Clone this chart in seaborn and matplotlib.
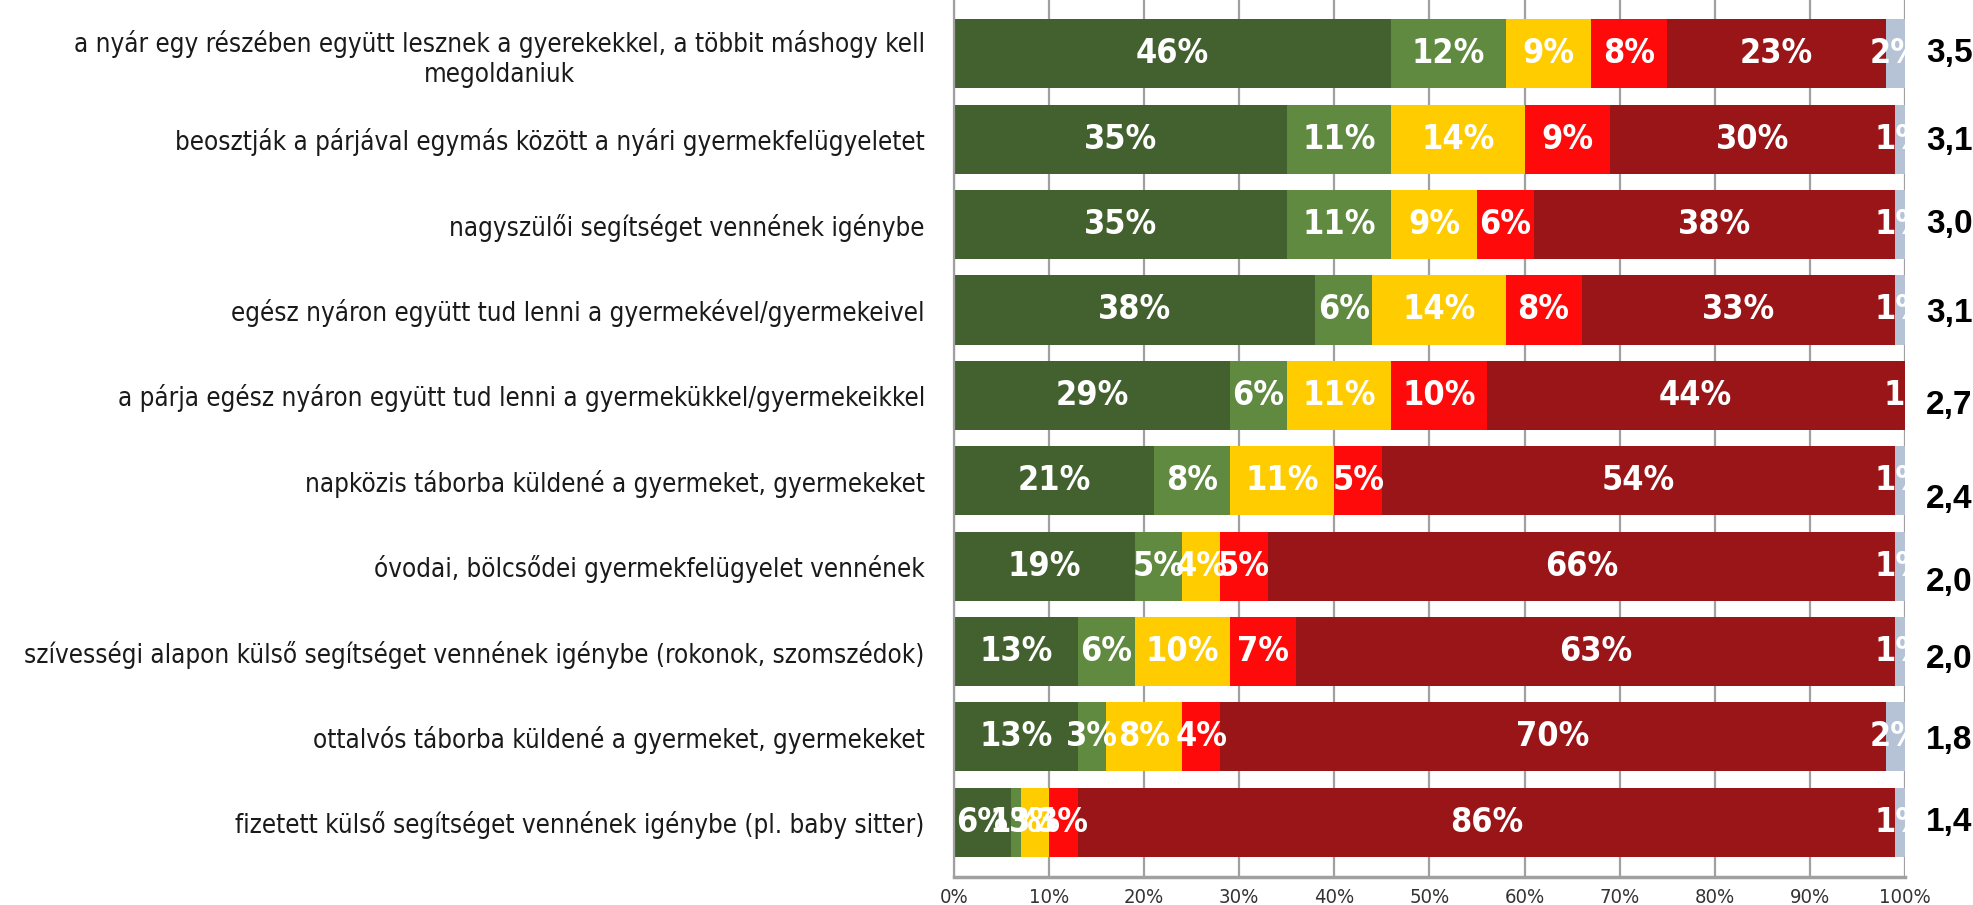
import pandas as pd
import seaborn as sns
import matplotlib.pyplot as plt
from matplotlib import font_manager
from matplotlib.font_manager import FontProperties
from matplotlib.ticker import FixedLocator
from matplotlib.transforms import offset_copy

categories = [
    "a nyár egy részében együtt lesznek a gyerekekkel, a többit máshogy kell\nmegoldaniuk",
    "beosztják a párjával egymás között a nyári gyermekfelügyeletet",
    "nagyszülői segítséget vennének igénybe",
    "egész nyáron együtt tud lenni a gyermekével/gyermekeivel",
    "a párja egész nyáron együtt tud lenni a gyermekükkel/gyermekeikkel",
    "napközis táborba küldené a gyermeket, gyermekeket",
    "óvodai, bölcsődei gyermekfelügyelet vennének",
    "szívességi alapon külső segítséget vennének igénybe (rokonok, szomszédok)",
    "ottalvós táborba küldené a gyermeket, gyermekeket",
    "fizetett külső segítséget vennének igénybe (pl. baby sitter)",
]

biztosan_igen = [46, 35, 35, 38, 29, 21, 19, 13, 13, 6]
inkabb_igen = [12, 11, 11, 6, 6, 8, 5, 6, 3, 1]
is_is = [9, 14, 9, 14, 11, 11, 4, 10, 8, 3]
inkabb_nem = [8, 9, 6, 8, 10, 5, 5, 7, 4, 3]
biztosan_nem = [23, 30, 38, 33, 44, 54, 66, 63, 70, 86]
nem_tudja = [2, 1, 1, 1, 1, 1, 1, 1, 2, 1]
atlag = ["3,5", "3,1", "3,0", "3,1", "2,7", "2,4", "2,0", "2,0", "1,8", "1,4"]

series = {
    "biztosan igen": biztosan_igen,
    "inkább igen": inkabb_igen,
    "is-is": is_is,
    "inkább nem": inkabb_nem,
    "biztosan nem": biztosan_nem,
    "nem tudja": nem_tudja,
}
colors = ["#42612E", "#5F8A40", "#FFCC00", "#FF0A0A", "#9A1518", "#B6C3D6"]
# the average labels sit a little lower than the bar centre on some rows (pixels)
atlag_shift = [0, 2, 0, 4, 10, 19, 16, 8, 4, 0]

df = pd.DataFrame(series)
df.insert(0, "kategoria", categories)
cum = df[list(series)].cumsum(axis=1)
cum.insert(0, "kategoria", categories)


def condensed_font(bold):
    # look for an installed narrow / condensed face, else None
    found = []
    for f in font_manager.fontManager.ttflist:
        fn = f.fname.lower()
        if "italic" in fn or "oblique" in fn:
            continue
        if not any(k in fn or k in f.name.lower() for k in ("narrow", "condensed")):
            continue
        if any(k in fn for k in ("semicondensed", "extracondensed", "semi", "extra", "ultra")):
            continue
        w = f.weight if isinstance(f.weight, int) else (700 if f.weight == "bold" else 400)
        if bold and w != 700:
            continue
        if not bold and w != 400:
            continue
        found.append(f)
    order = ["liberation", "arial", "dejavu", "noto", "roboto"]
    found.sort(key=lambda f: next((i for i, o in enumerate(order) if o in f.fname.lower()), 9))
    return found[0].fname if found else None


reg_file = condensed_font(False)
bold_file = condensed_font(True)


def fp(size, bold=False):
    fname = bold_file if bold else reg_file
    if fname:
        return FontProperties(fname=fname, size=size)
    # no condensed face: shrink the regular family instead
    return FontProperties(family="Liberation Sans", weight="bold" if bold else "normal",
                          size=size * 1.03)


sns.set_style("white")
plt.rcParams["font.family"] = ["Liberation Sans", "DejaVu Sans"]

fig = plt.figure(figsize=(19.74, 9.05), dpi=100)
ax = fig.add_axes([0.4833, 0.031, 0.4817, 0.969])

# stacked bars: draw cumulative totals from the last series back to the first
for name, color in reversed(list(zip(series, colors))):
    sns.barplot(data=cum, x=name, y="kategoria", color=color, orient="h",
                width=0.81, saturation=1, linewidth=0, ax=ax, zorder=2)

pct_font = fp(24.5, bold=True)
for i, cat in enumerate(categories):
    left = 0
    for name in series:
        v = df.loc[i, name]
        ax.text(left + v / 2, i, f"{v}%", ha="center", va="center", color="white",
                fontproperties=pct_font, clip_on=True, zorder=3)
        left += v
    tr = offset_copy(ax.get_yaxis_transform(), fig=fig, y=-atlag_shift[i], units="dots")
    ax.text(1.022, i, atlag[i], transform=tr, ha="left",
            va="center", fontsize=24, fontweight="bold", color="black", clip_on=False)

ax.set_xlim(0, 100)
ax.set_ylim(9.64, -0.63)
ax.set_xticks(range(0, 101, 10))
ax.set_xticklabels([f"{t}%" for t in range(0, 101, 10)], fontproperties=fp(14.5), color="#333333")
ax.set_yticks(range(len(categories)))
ax.set_yticklabels(categories, fontproperties=fp(18.6), color="#1a1a1a", multialignment="center")
ax.yaxis.set_minor_locator(FixedLocator([i - 0.5 for i in range(len(categories) + 1)]))
ax.set_xlabel("")
ax.set_ylabel("")
ax.xaxis.grid(True, color="#a0a0a0", linewidth=1.6, zorder=0)
ax.set_axisbelow(True)
ax.tick_params(axis="x", length=7, width=1.6, color="#a0a0a0", pad=1, direction="out")
ax.tick_params(axis="y", which="major", length=0, pad=21)
ax.tick_params(axis="y", which="minor", length=7, width=1.6, color="#a0a0a0", direction="out")
for side in ["top", "right"]:
    ax.spines[side].set_visible(False)
ax.spines["left"].set_color("#a0a0a0")
ax.spines["left"].set_linewidth(1.6)
ax.spines["bottom"].set_color("#a0a0a0")
ax.spines["bottom"].set_linewidth(2.5)

fig.savefig("out.png", dpi=100)
